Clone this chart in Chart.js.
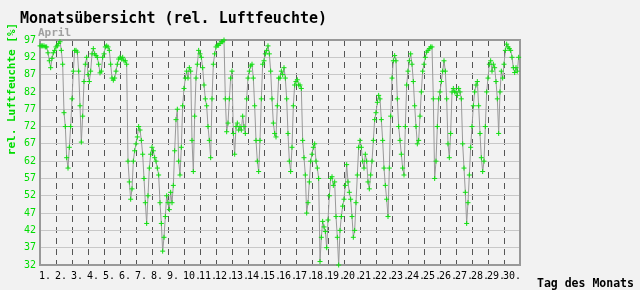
<!DOCTYPE html>
<html><head><meta charset="utf-8">
<script src="https://cdn.jsdelivr.net/npm/chart.js@4/dist/chart.umd.min.js"></script>
<style>html,body{margin:0;padding:0;background:#f2f2f2;}#wrap{width:640px;height:290px;}</style>
</head><body><div id="wrap"><canvas id="c" width="640" height="290"></canvas></div>
<script>
const chartTitle = 'Monatsübersicht (rel. Luftfeuchte)';
const monthName = 'April';
const yAxisTitle = 'rel. Luftfeuchte [%]';
const xAxisTitle = 'Tag des Monats';
const days = [1,2,3,4,5,6,7,8,9,10,11,12,13,14,15,16,17,18,19,20,21,22,23,24,25,26,27,28,29,30];
const sampleHours = [0,2,4,6,8,10,12,14,16,18,20,22];
const yTicks = [32,37,42,47,52,57,62,67,72,77,82,87,92,97];
// relative humidity [%], one row per day, values at sampleHours
const humidity = [
  95.3,95.3,95.3,95.3,95,95,93.3,91,89,91.7,93.3,94,
  95,95.3,96,96.5,94,90,76,72,63,60,66,72,
  80,88,94,94,93.5,88,78,67.5,75,85,90,92,
  87,85,88,93,94.5,93,92.5,92,90,87.5,88,92,
  93,95,95.3,95,94,90,86,85.4,86,88,90,91.5,
  92,91.5,92,91,91,90,62,56,51,54,62,65,
  67,69,72,71,68,64,57,50,44,52,60,64,
  66,65,63,62,60,58,50,44,36,40,46,52,
  50,48,53,50,55,65,74,77,62,58,66,78,
  83,86,88,86,89,88,68,59,75,86,90,94,
  93,92,89,84,80,78,72,68,63,80,90,93,
  95,95.5,95.5,96,96.5,96.5,97,80,70.5,73,80,86,
  88,70,64,72,73,71,72,71,75,72,70,80,
  86,88,89.5,90,86,78,68,62,59,68,80,90,
  91,93,94,95.3,93,88,80,73,70,69,78,86,
  86,88,87,89,86,80,70,62,59,66,78,84,
  85,85.5,84,84,83,68,63,58,47,50,56,62,
  64,66,67,62,60,57,33,40,44.6,43,41.7,37,
  45,52,57,57.5,55,56,46,40,32,42,46,49,
  51,55,61,56,53,51,46,40,42,50,58,66,
  68,66,62,60,64,62,56,54,58,62,68,74,
  76,79,81,80,74,68,60,55,51,46,60,75,
  86,91,92.5,91,80,72,68,64,60,58,72,84,
  88,91,93,90,85,78,72,67,68,75,82,88,
  90,92,93.5,94,94.5,95,95,80,57,62,72,80,
  82,85,88,91,88,80,67,63,70,82,83,82,
  82,81,83,82,80,67,60,53,44,50,58,66,
  72,78,82,84,85,78,70,63,59,62,72,82,
  86,90,91,88,90,89,85,80,70,82,88,86,
  90,94,95.8,95,94.5,94,92,89,87.6,89,88,92
];

const points = [];
days.forEach((d, i) => {
  sampleHours.forEach((h, j) => {
    points.push({x: d + h / 24, y: humidity[i * sampleHours.length + j]});
  });
});

const MONO = '"DejaVu Sans Mono", monospace';

const decor = {
  id: 'decor',
  beforeDraw(chart) {
    const c = chart.ctx;
    c.save();
    c.fillStyle = '#f2f2f2';
    c.fillRect(0, 0, chart.width, chart.height);
    c.restore();
  },
  beforeDatasetsDraw(chart) {
    const a = chart.chartArea, c = chart.ctx;
    c.save();
    c.strokeStyle = '#999999';
    c.lineWidth = 2;
    c.strokeRect(a.left, a.top, a.right - a.left, a.bottom - a.top);
    c.restore();
  },
  afterDraw(chart) {
    const c = chart.ctx;
    c.save();
    c.textBaseline = 'alphabetic';
    c.textAlign = 'left';
    c.fillStyle = '#000';
    c.font = 'bold 15px ' + MONO;
    c.fillText(chartTitle, 20, 23);
    c.fillStyle = '#a0a0a0';
    c.font = 'bold 11px ' + MONO;
    c.fillText(monthName, 38, 36);
    c.fillStyle = '#000';
    c.font = 'bold 11.5px ' + MONO;
    c.fillText(xAxisTitle, 537, 287);
    c.translate(15, 89);
    c.rotate(-Math.PI / 2);
    c.textAlign = 'center';
    c.fillStyle = '#00dd00';
    c.font = 'bold 11px ' + MONO;
    c.fillText(yAxisTitle, 0, 0);
    c.restore();
  }
};

new Chart(document.getElementById('c'), {
  type: 'line',
  data: {
    datasets: [{
      data: points,
      borderColor: '#999999',
      borderWidth: 1,
      pointStyle: 'cross',
      pointRadius: 2.5,
      pointBorderWidth: 1,
      pointBorderColor: '#11e011',
      pointBackgroundColor: '#11e011',
      tension: 0,
      clip: false
    }]
  },
  options: {
    responsive: false,
    animation: false,
    devicePixelRatio: 1,
    layout: {padding: {left: 0, right: 120, top: 40, bottom: 0}},
    plugins: {legend: {display: false}, title: {display: false}, tooltip: {enabled: false}},
    scales: {
      x: {
        type: 'linear', min: 1, max: 31,
        afterBuildTicks: s => { s.ticks = days.concat([31]).map(v => ({value: v})); },
        afterFit: s => { s.height = 25; },
        ticks: {
          autoSkip: false, maxRotation: 0, minRotation: 0, align: 'start', labelOffset: -1, padding: 5,
          color: '#000', font: {family: 'DejaVu Sans Mono', size: 10},
          callback: v => (days.includes(v) ? v + '.' : '')
        },
        grid: {
          drawTicks: false, lineWidth: 1,
          color: ctx => (ctx.tick && ctx.tick.value > 1 && ctx.tick.value < 31) ? '#555555' : 'rgba(0,0,0,0)'
        },
        border: {display: false, dash: [6, 5]}
      },
      y: {
        type: 'linear', min: 32, max: 97,
        afterBuildTicks: s => { s.ticks = yTicks.map(v => ({value: v})); },
        afterFit: s => { s.width = 40; },
        ticks: {color: '#00dd00', font: {family: 'DejaVu Sans Mono', size: 10}, padding: 4},
        grid: {
          drawTicks: false, lineWidth: 1,
          color: ctx => (ctx.tick && ctx.tick.value > 32 && ctx.tick.value < 97) ? '#c8c8c8' : 'rgba(0,0,0,0)'
        },
        border: {display: false}
      }
    }
  },
  plugins: [decor]
});
</script></body></html>
